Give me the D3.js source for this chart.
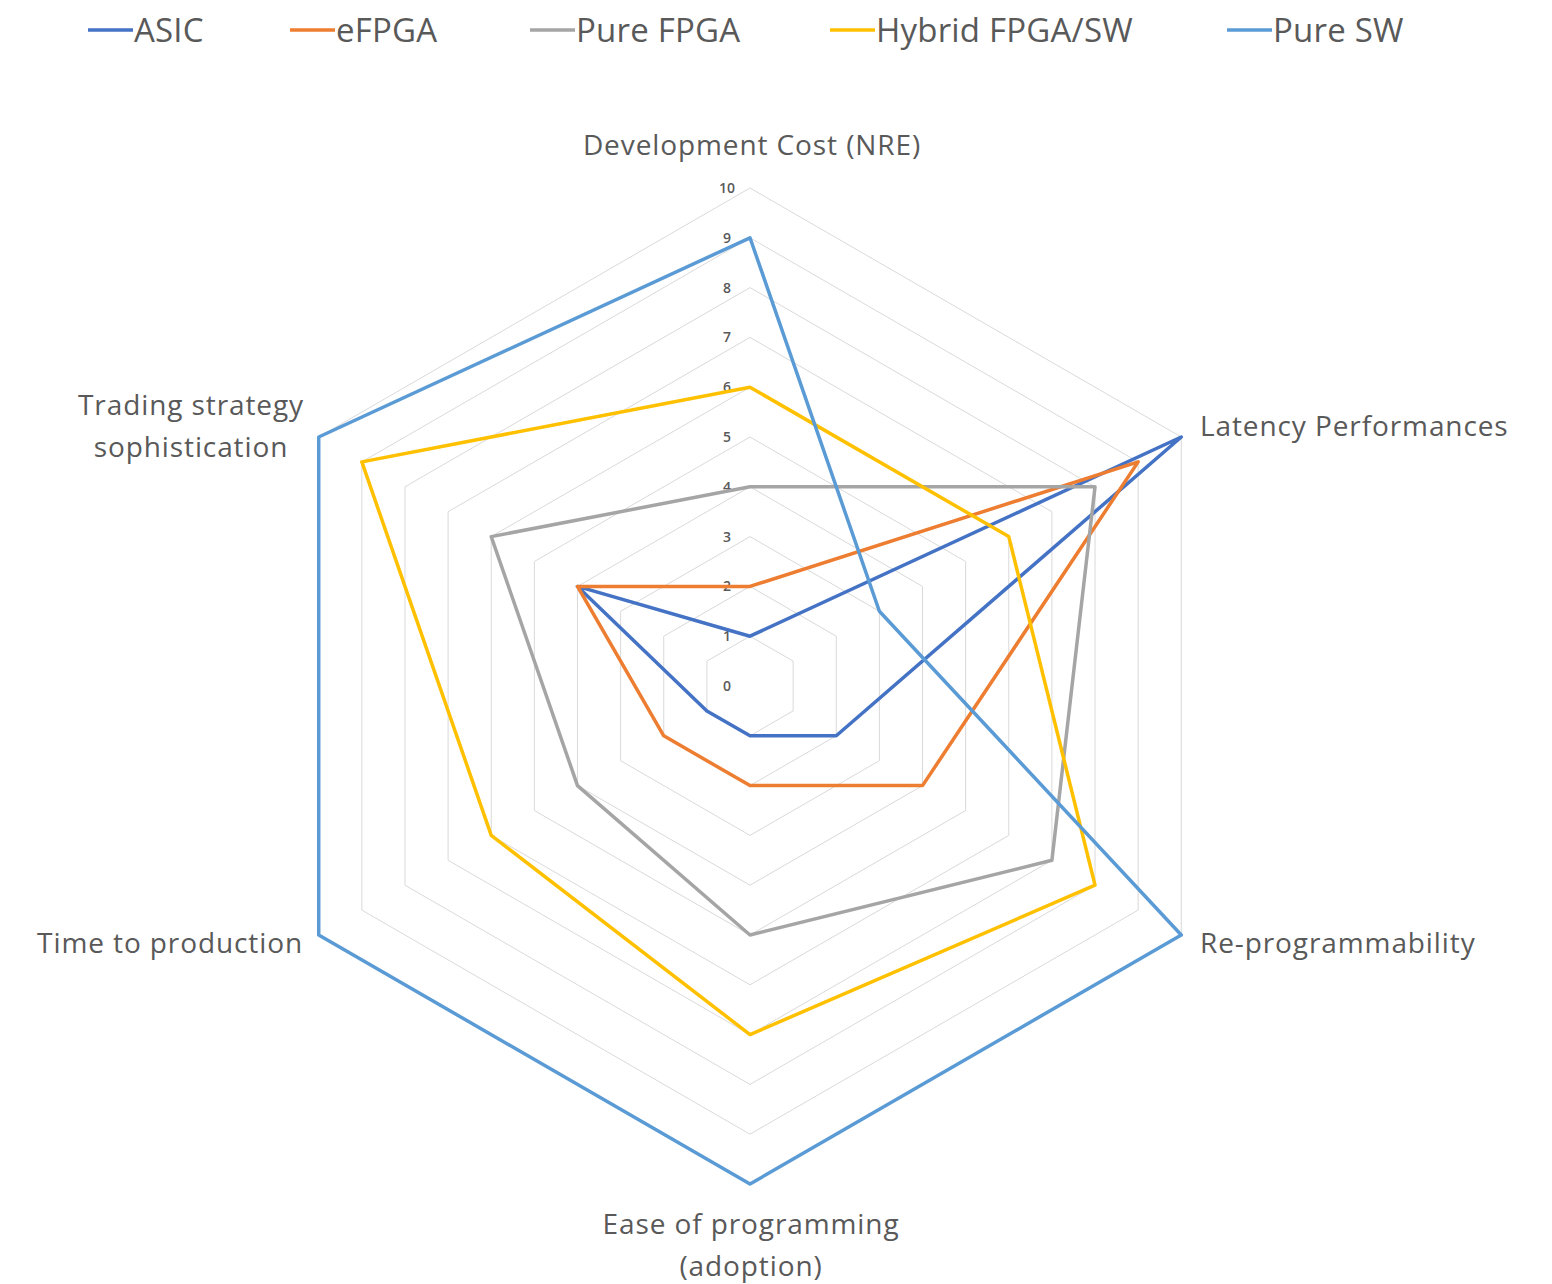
<!DOCTYPE html>
<html><head><meta charset="utf-8">
<script src="https://cdn.jsdelivr.net/npm/d3@7"></script>
<style>body{margin:0;background:#fff}</style>
</head><body>
<svg id="c" width="1552" height="1284"></svg>
<script>
const categories = [["Development Cost (NRE)"],["Latency Performances"],["Re-programmability"],["Ease of programming","(adoption)"],["Time to production"],["Trading strategy","sophistication"]];
const seriesNames = ["ASIC","eFPGA","Pure FPGA","Hybrid FPGA/SW","Pure SW"];
const asic = [1,10,2,1,1,4];
const efpga = [2,9,4,2,2,4];
const pureFpga = [4,8,7,5,4,6];
const hybrid = [6,6,8,7,6,9];
const pureSw = [9,3,10,10,10,10];
const ticks = [0,1,2,3,4,5,6,7,8,9,10];
const colors = ["#4472C4","#ED7D31","#A5A5A5","#FFC000","#5B9BD5"];
const allSeries = [asic,efpga,pureFpga,hybrid,pureSw];

const svg = d3.select("#c");
const cx = 750, cy = 686, R = 498;
const r = d3.scaleLinear().domain([0,10]).range([0,R]);
const n = categories.length;
const ang = i => i*2*Math.PI/n;
const pt = (i,v) => [cx + r(v)*Math.sin(ang(i)), cy - r(v)*Math.cos(ang(i))];

// grid
const g = svg.append("g");
ticks.filter(t=>t>0).forEach(t=>{
  g.append("polygon").attr("points", d3.range(n).map(i=>pt(i,t).join(",")).join(" "))
   .attr("fill","none").attr("stroke","#d9d9d9").attr("stroke-width",1);
});
// tick labels
ticks.forEach(t=>{
  g.append("text").attr("x",cx-23).attr("y",cy - r(t)).attr("dy","0.35em")
   .attr("text-anchor","middle").attr("font-family","Open Sans, sans-serif")
   .attr("font-size",14).attr("font-weight","600").attr("fill","#595959").text(t);
});
// series
const line = d3.line().curve(d3.curveLinearClosed);
allSeries.forEach((s,k)=>{
  svg.append("path").attr("d", line(s.map((v,i)=>pt(i,v))))
   .attr("fill","none").attr("stroke",colors[k]).attr("stroke-width",3.5).attr("stroke-linejoin","round");
});
// category labels
const labelPos = [
  {x:752, y:145, anchor:"middle"},
  {x:1200, y:426, anchor:"start"},
  {x:1200, y:943, anchor:"start"},
  {x:751, y:1224, anchor:"middle"},
  {x:303, y:943, anchor:"end"},
  {x:191, y:405, anchor:"middle"}
];
categories.forEach((c,i)=>{
  const p = labelPos[i];
  const t = svg.append("text").attr("text-anchor",p.anchor)
    .attr("font-family","Open Sans, sans-serif").attr("font-size",28).attr("letter-spacing","0.9")
    .attr("fill","#595959");
  c.forEach((l,j)=>t.append("tspan").attr("x",p.x).attr("y",p.y + j*42).attr("dy","0.35em").text(l));
});
// legend
const legX = [88,290,530,830,1227];
seriesNames.forEach((s,k)=>{
  const lg = svg.append("g").attr("transform",`translate(${legX[k]},30)`);
  lg.append("line").attr("x1",0).attr("x2",45).attr("y1",0).attr("y2",0).attr("stroke",colors[k]).attr("stroke-width",3.5);
  lg.append("text").attr("x",46).attr("y",0).attr("dy","0.35em").attr("font-family","Open Sans, sans-serif")
    .attr("font-size",33).attr("fill","#595959").attr("letter-spacing","0.2").text(s);
});
</script>
</body></html>
